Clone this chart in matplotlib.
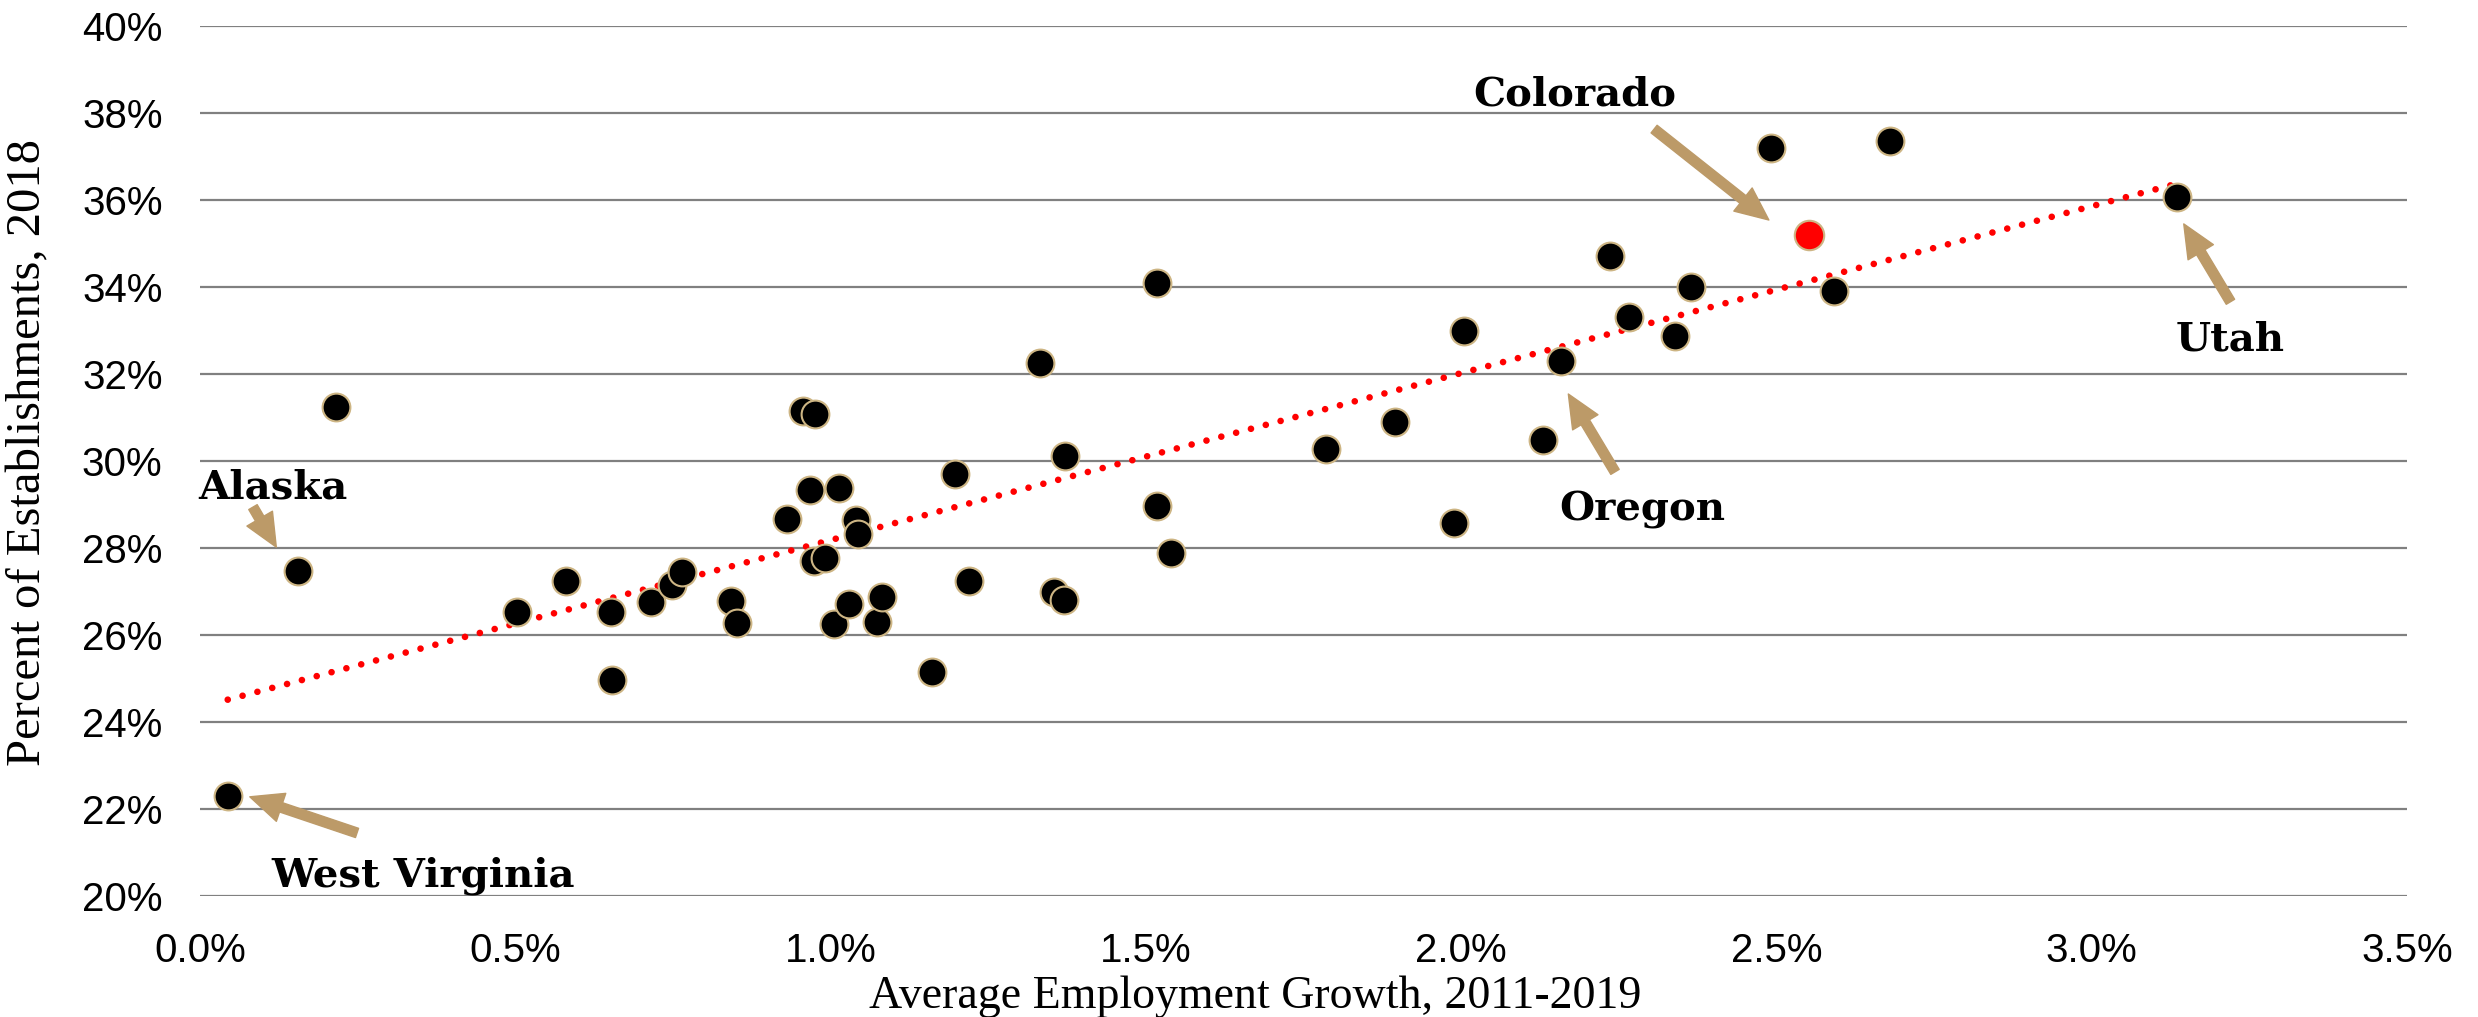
import numpy as np
import matplotlib
matplotlib.use("Agg")
import matplotlib.pyplot as plt
from matplotlib.ticker import FuncFormatter

# ---- data (percent units) ----
emp_growth = [0.044, 0.155, 0.215, 0.502, 0.581, 0.652, 0.654, 0.716, 0.748, 0.765,
              0.842, 0.852, 0.931, 0.956, 0.976, 0.968, 0.974, 0.991, 1.014, 1.005,
              1.030, 1.041, 1.044, 1.074, 1.081, 1.161, 1.198, 1.220, 1.332, 1.355,
              1.370, 1.371, 1.518, 1.517, 1.540, 1.785, 1.895, 1.989, 2.004, 2.130,
              2.158, 2.236, 2.266, 2.339, 2.364, 2.492, 2.591, 2.680, 3.136]
pct_estab = [22.30, 27.47, 31.25, 26.52, 27.23, 26.54, 24.97, 26.75, 27.15, 27.44,
             26.78, 26.27, 28.66, 31.15, 31.07, 29.33, 27.71, 27.76, 29.38, 26.25,
             26.72, 28.65, 28.33, 26.30, 26.88, 25.14, 29.71, 27.25, 32.25, 26.98,
             26.81, 30.12, 34.10, 28.96, 27.89, 30.27, 30.90, 28.57, 32.98, 30.49,
             32.30, 34.71, 33.32, 32.87, 34.00, 37.20, 33.90, 37.35, 36.07]
colorado_x = [2.551]
colorado_y = [35.20]

x_ticks = [0.0, 0.5, 1.0, 1.5, 2.0, 2.5, 3.0, 3.5]
y_ticks = [20, 22, 24, 26, 28, 30, 32, 34, 36, 38, 40]
x_label = "Average Employment Growth, 2011-2019"
y_label = "Percent of Establishments, 2018"

GOLD_EDGE = "#CDB584"
ARROW = "#BC9A68"

fig = plt.figure(figsize=(24.78, 10.17), dpi=100)
ax = fig.add_axes([200/2478, 1-896/1017, (2407-200)/2478, (896-26)/1017])

ax.set_xlim(0, 3.5)
ax.set_ylim(20, 40)
ax.set_xticks(x_ticks)
ax.set_yticks(y_ticks)
ax.xaxis.set_major_formatter(FuncFormatter(lambda v, p: f"{v:.1f}%"))
ax.yaxis.set_major_formatter(FuncFormatter(lambda v, p: f"{v:.0f}%"))
ax.grid(axis="y", color="#808080", linewidth=1.6, zorder=0)
ax.set_axisbelow(True)
for s in ax.spines.values():
    s.set_visible(False)
ax.tick_params(axis="both", length=0, labelsize=29, colors="black")
ax.tick_params(axis="x", pad=26)
ax.tick_params(axis="y", pad=27)
for lab in ax.get_xticklabels() + ax.get_yticklabels():
    lab.set_fontfamily("Liberation Sans")

# trend line (least squares over all states)
xa = np.array(emp_growth + colorado_x)
ya = np.array(pct_estab + colorado_y)
slope, intercept = np.polyfit(xa, ya, 1)
tx = np.array([xa.min(), xa.max()])
ax.plot(tx, intercept + slope * tx, color="#FF0000", linewidth=4.8,
        linestyle=(0, (0.001, 2.3)), dash_capstyle="round", zorder=3)

ax.scatter(emp_growth, pct_estab, s=400, facecolor="black", edgecolor=GOLD_EDGE,
           linewidth=1.5, zorder=4)
ax.scatter(colorado_x, colorado_y, s=450, facecolor="#FF0000", edgecolor=GOLD_EDGE,
           linewidth=1.5, zorder=5)

lab_font = dict(family="DejaVu Serif", weight="bold", size=29, ha="center", va="baseline")
arrow_kw = dict(arrowstyle="simple,head_length=0.95,head_width=0.85,tail_width=0.28",
                color=ARROW, shrinkA=0, shrinkB=0, mutation_scale=25)

ax.text(0.116, 29.13, "Alaska", **lab_font)
ax.text(0.354, 20.21, "West Virginia", **lab_font)
ax.text(2.180, 38.18, "Colorado", **lab_font)
ax.text(3.219, 32.55, "Utah", **lab_font)
ax.text(2.288, 28.64, "Oregon", **lab_font)

ax.annotate("", xy=(0.121, 28.02), xytext=(0.084, 28.94), arrowprops=arrow_kw, zorder=6)
ax.annotate("", xy=(0.079, 22.28), xytext=(0.249, 21.45), arrowprops=arrow_kw, zorder=6)
ax.annotate("", xy=(2.488, 35.54), xytext=(2.306, 37.63), arrowprops=arrow_kw, zorder=6)
ax.annotate("", xy=(3.146, 35.45), xytext=(3.220, 33.66), arrowprops=arrow_kw, zorder=6)
ax.annotate("", xy=(2.170, 31.54), xytext=(2.244, 29.75), arrowprops=arrow_kw, zorder=6)

fig.text(1255/2478, 1-1008/1017, x_label, family="Liberation Serif", size=33,
         ha="center", va="baseline")
fig.text(28/2478, 1-452/1017, y_label, family="Liberation Serif", size=35,
         rotation=90, ha="center", va="center")

fig.savefig("out.png", dpi=100, facecolor="white")
